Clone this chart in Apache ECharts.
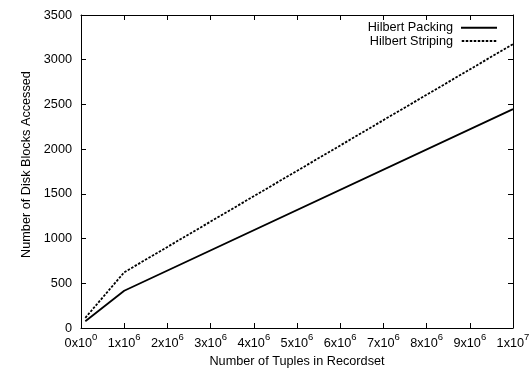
<!DOCTYPE html>
<html>
<head>
<meta charset="utf-8">
<script src="https://cdn.jsdelivr.net/npm/echarts@6/dist/echarts.min.js"></script>
<style>
  html, body { margin: 0; padding: 0; background: #fff; }
  #chart { width: 530px; height: 370px; }
</style>
</head>
<body>
<div id="chart"></div>
<script>
// Recordset sizes (tuples) and disk blocks accessed for each layout
const tupleCounts = [1e5, 1e6, 1e7];
const hilbertPacking = [76, 417, 2448];
const hilbertStriping = [114, 623, 3175];

// X tick labels as [mantissa, exponent] for 0 .. 1e7 in steps of 1e6
const xTickLabels = [
  ['0', '0'], ['1', '6'], ['2', '6'], ['3', '6'], ['4', '6'], ['5', '6'],
  ['6', '6'], ['7', '6'], ['8', '6'], ['9', '6'], ['1', '7']
];

const FONT = '"Liberation Sans", Arial, Helvetica, sans-serif';
const FS = 12.7;

// Legend keys: a solid bar and a row of short dashes, both 36 units wide
const solidKey = 'path://M0,0H36V2H0Z';
let dashedKey = 'path://';
for (let x = 0; x < 36; x += 4) {
  dashedKey += 'M' + x + ',0H' + (x + 2.5) + 'V2H' + x + 'Z';
}

const chart = echarts.init(document.getElementById('chart'), null, { renderer: 'canvas' });

const axisText = { color: '#000', fontFamily: FONT, fontSize: FS };

const option = {
  animation: false,
  backgroundColor: '#fff',
  grid: { left: 81, right: 17, top: 15, bottom: 42, show: false, containLabel: false, outerBoundsMode: 'none' },
  legend: {
    orient: 'vertical',
    right: 28,
    top: 16,
    align: 'right',
    itemWidth: 36,
    itemHeight: 2,
    itemGap: 0,
    textStyle: { color: '#000', fontFamily: FONT, fontSize: FS, lineHeight: 13.4, padding: [0, 3, 0, 0] },
    data: [
      { name: 'Hilbert Packing', icon: solidKey, itemStyle: { color: '#000' } },
      { name: 'Hilbert Striping', icon: dashedKey, itemStyle: { color: '#000' } }
    ]
  },
  xAxis: [
    {
      type: 'value', min: 0, max: 1e7, interval: 1e6, position: 'bottom',
      name: 'Number of Tuples in Recordset', nameLocation: 'middle', nameGap: 25,
      nameTextStyle: axisText,
      axisLine: { show: true, onZero: false, lineStyle: { color: '#000', width: 1 } },
      axisTick: { show: true, inside: true, length: 5, lineStyle: { color: '#000' } },
      splitLine: { show: false },
      axisLabel: {
        margin: 6,
        formatter: function (v) {
          const t = xTickLabels[Math.round(v / 1e6)];
          return '{m|' + t[0] + 'x10}{e|' + t[1] + '}';
        },
        rich: {
          m: { color: '#000', fontFamily: FONT, fontSize: FS, verticalAlign: 'bottom', lineHeight: 16 },
          e: { color: '#000', fontFamily: FONT, fontSize: 9.5, verticalAlign: 'bottom', lineHeight: 9, padding: [0, 0, 8, 0] }
        }
      }
    },
    {
      type: 'value', min: 0, max: 1e7, interval: 1e6, position: 'top',
      axisLine: { show: true, onZero: false, lineStyle: { color: '#000', width: 1 } },
      axisTick: { show: true, inside: true, length: 5, lineStyle: { color: '#000' } },
      axisLabel: { show: false },
      splitLine: { show: false }
    }
  ],
  yAxis: [
    {
      type: 'value', min: 0, max: 3500, interval: 500, position: 'left',
      axisLine: { show: true, onZero: false, lineStyle: { color: '#000', width: 1 } },
      axisTick: { show: true, inside: true, length: 5, lineStyle: { color: '#000' } },
      splitLine: { show: false },
      axisLabel: Object.assign({ margin: 9, formatter: v => String(v) }, axisText)
    },
    {
      type: 'value', min: 0, max: 3500, interval: 500, position: 'right',
      axisLine: { show: true, onZero: false, lineStyle: { color: '#000', width: 1 } },
      axisTick: { show: true, inside: true, length: 5, lineStyle: { color: '#000' } },
      axisLabel: { show: false },
      splitLine: { show: false }
    }
  ],
  graphic: [
    {
      type: 'text',
      x: 26, y: 164.5,
      rotation: Math.PI / 2,
      style: {
        text: 'Number of Disk Blocks Accessed',
        fill: '#000', font: FS + 'px ' + FONT,
        align: 'center', verticalAlign: 'middle'
      }
    }
  ],
  series: [
    {
      name: 'Hilbert Packing', type: 'line', xAxisIndex: 0, yAxisIndex: 0,
      data: tupleCounts.map((x, i) => [x, hilbertPacking[i]]),
      showSymbol: false, symbol: 'none',
      lineStyle: { color: '#000', width: 1.8, type: 'solid' },
      itemStyle: { color: '#000' }
    },
    {
      name: 'Hilbert Striping', type: 'line', xAxisIndex: 0, yAxisIndex: 0,
      data: tupleCounts.map((x, i) => [x, hilbertStriping[i]]),
      showSymbol: false, symbol: 'none',
      lineStyle: { color: '#000', width: 1.8, type: [2.5, 1.5] },
      itemStyle: { color: '#000' }
    }
  ]
};

chart.setOption(option);
</script>
</body>
</html>
